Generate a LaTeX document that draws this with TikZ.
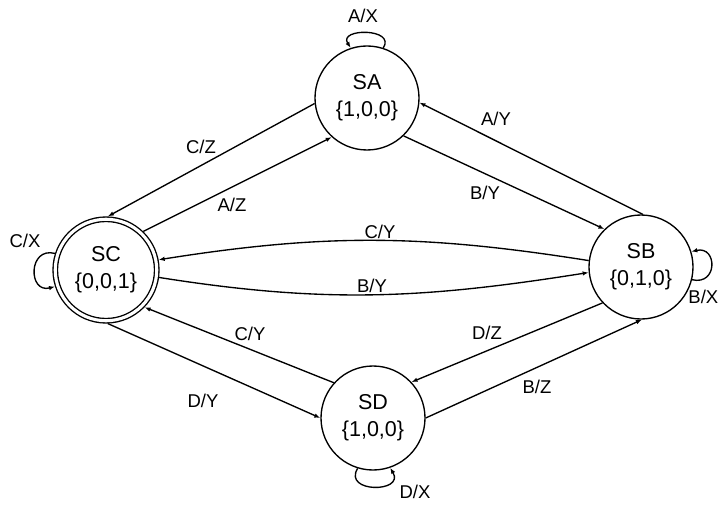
\documentclass[tikz,border=0pt]{standalone}
\usepackage{fontspec}
\setmainfont{Liberation Sans}
\usetikzlibrary{arrows.meta}
\begin{document}
\begin{tikzpicture}[x=1pt,y=1pt,
  state/.style={circle,draw,line width=1.35pt,minimum size=104pt,inner sep=0pt,align=center,font=\fontsize{21.5}{27}\selectfont},
  accept/.style={state,double,double distance=3.1pt,minimum size=101.5pt,outer sep=2.9pt},
  trans/.style={line width=1.35pt,-{Latex[length=6pt,width=4.5pt]}},
  lbl/.style={inner sep=0pt,font=\fontsize{18.5}{20}\selectfont}]
\useasboundingbox (0,0) rectangle (719,504);
\node[state]  (SA) at (367,406) {SA\\\{1,0,0\}};
\node[accept] (SC) at (106,234) {SC\\\{0,0,1\}};
\node[state]  (SB) at (641,237) {SB\\\{0,1,0\}};
\node[state]  (SD) at (373,86)  {SD\\\{1,0,0\}};
% transitions
\draw[trans] (SA.186) -- (SC.88);
\draw[trans] (SC.46) -- (SA.228);
\draw[trans] (SB.88) -- (SA.355);
\draw[trans] (SA.314) -- (SB.134);
\draw[trans] (SB.173) to[out=171,in=9] (SC.11);
\draw[trans] (SC.352) to[out=-9,in=189] (SB.186);
\draw[trans] (SD.138) -- (SC.316);
\draw[trans] (SC.272) -- (SD.180);
\draw[trans] (SB.223) -- (SD.43);
\draw[trans] (SD.0) -- (SB.271);
% self loops
\draw[trans] (SA.72) .. controls +(13,20) and +(-13,20) .. (SA.108);
\draw[trans] (SC.162) .. controls +(-27,7) and +(-27,-7) .. (SC.198);
\draw[trans] (SB.-14) .. controls +(26,-6) and +(26,6) .. (SB.17);
\draw[trans] (SD.253) .. controls +(-15,-25) and +(15,-25) .. (SD.289);
% labels
\node[lbl] (lAX) at (363,488) {A/X};
\node[lbl] (lCX) at (25,263) {C/X};
\node[lbl,anchor=east] (lBX) at (718.5,207) {B/X};
\node[lbl] (lDX) at (415,12) {D/X};
\node[lbl] (lCZ) at (201,357) {C/Z};
\node[lbl] (lAZ) at (232,299) {A/Z};
\node[lbl] (lAY) at (496,385) {A/Y};
\node[lbl] (lBY) at (485,311) {B/Y};
\node[lbl] (lCY) at (380,272) {C/Y};
\node[lbl] (lBY2) at (372,218) {B/Y};
\node[lbl] (lCY2) at (250,170) {C/Y};
\node[lbl] (lDY) at (203,103) {D/Y};
\node[lbl] (lDZ) at (487,171) {D/Z};
\node[lbl] (lBZ) at (537,117) {B/Z};
\end{tikzpicture}
\end{document}
